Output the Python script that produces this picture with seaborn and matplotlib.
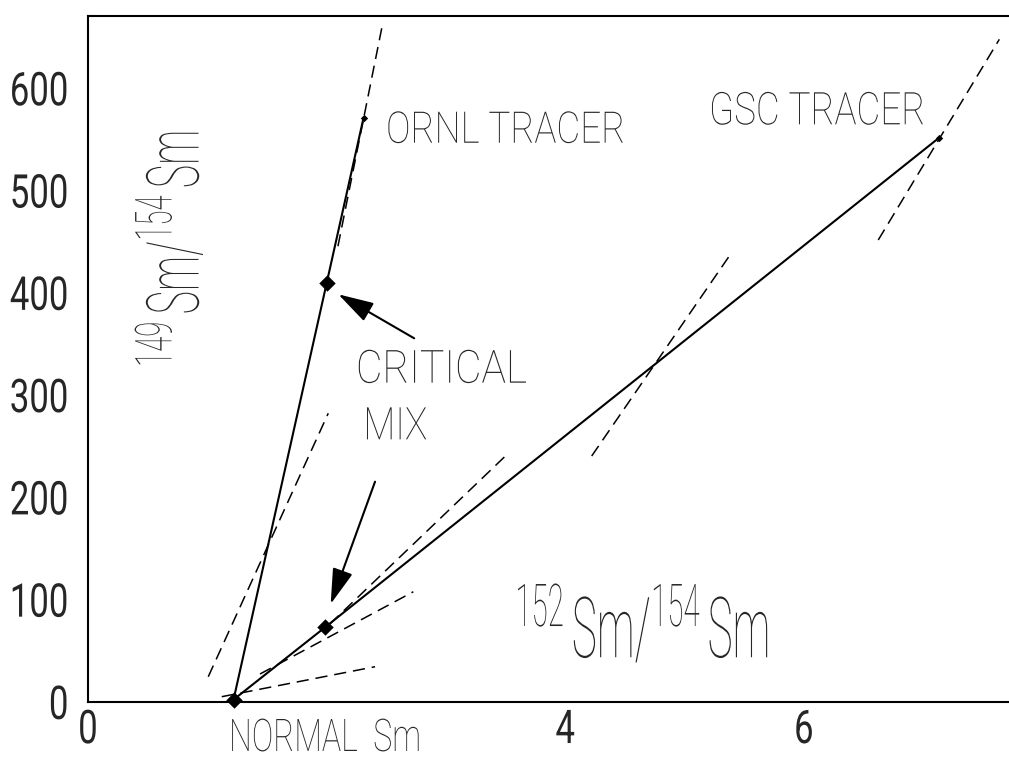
import numpy as np
import pandas as pd
import matplotlib
matplotlib.use("Agg")
import matplotlib.pyplot as plt
import seaborn as sns
from matplotlib.patheffects import AbstractPathEffect
from matplotlib.transforms import Affine2D
from matplotlib.textpath import TextPath

# ---- data: 152Sm/154Sm (x) vs 149Sm/154Sm (y) ----
ornl_x = [1.22, 2.00, 2.31]          # normal -> critical mix -> ORNL tracer
ornl_y = [2, 409, 571]
gsc_x = [1.22, 1.99, 7.13]           # normal -> critical mix -> GSC tracer
gsc_y = [2, 73, 551]

mix_x = [1.22, 2.00, 1.99]           # normal Sm and the two critical mixes
mix_y = [2, 409, 73]
tracer_x = [2.31, 7.13]
tracer_y = [571, 551]

# dashed reference segments (start / end)
dash_x0 = [2.462, 1.008, 1.121, 1.442, 2.028, 4.222, 6.624]
dash_y0 = [658.4, 24.4, 4.9, 27.1, 76.0, 240.2, 451.4]
dash_x1 = [2.090, 2.014, 2.406, 2.727, 3.523, 5.387, 7.639]
dash_y1 = [442.3, 282.0, 34.2, 107.5, 242.9, 437.7, 647.6]

x_ticks = [0, 1, 2, 3, 4, 5, 6, 7]
x_tick_labels = ["0", "", "", "", "4", "", "6", ""]
y_ticks = [0, 100, 200, 300, 400, 500, 600]
y_minor_ticks = [50, 150, 250, 350, 450, 550, 650]


class Tall(AbstractPathEffect):
    """Draw text glyphs stretched vertically (narrow, tall lettering)."""

    def __init__(self, sy, anchor="baseline"):
        super().__init__()
        self.sy = sy
        self.anchor = anchor

    def draw_path(self, renderer, gc, tpath, affine, rgbFace=None):
        ys = tpath.vertices[:, 1]
        if self.anchor == "top" and len(ys):
            a = ys.max()
        elif self.anchor == "middle" and len(ys):
            a = 0.5 * ys.max()
        else:
            a = 0.0
        stretch = Affine2D().translate(0, -a).scale(1.0, self.sy).translate(0, a)
        renderer.draw_path(gc, tpath, stretch + affine, rgbFace)


sns.set_style("white")
plt.rcParams["font.family"] = ["Roboto", "DejaVu Sans"]
plt.rcParams["font.weight"] = "light"
plt.rcParams["mathtext.default"] = "regular"

fig = plt.figure(figsize=(10.09, 7.57), dpi=100)
ax = fig.add_axes([88 / 1009, 55.3 / 757, 921 / 1009, 686 / 757])
renderer = fig.canvas.get_renderer()

# dashed segments
for x0, y0, x1, y1 in zip(dash_x0, dash_y0, dash_x1, dash_y1):
    sns.lineplot(x=[x0, x1], y=[y0, y1], ax=ax, color="black", lw=1.1,
                 linestyle=(0, (8, 4.5)), sort=False, estimator=None)

# mixing lines
sns.lineplot(x=ornl_x, y=ornl_y, ax=ax, color="black", lw=1.5, sort=False, estimator=None)
sns.lineplot(x=gsc_x, y=gsc_y, ax=ax, color="black", lw=1.5, sort=False, estimator=None)

# points
sns.scatterplot(x=mix_x, y=mix_y, ax=ax, marker="D", s=70, color="black",
                edgecolor="black", linewidth=0, zorder=5, clip_on=False)
sns.scatterplot(x=tracer_x, y=tracer_y, ax=ax, marker="D", s=14, color="black",
                edgecolor="black", linewidth=0, zorder=5)

# arrows pointing to the critical mixes
arrow_kw = dict(arrowstyle="-|>,head_length=1.1,head_width=0.32", mutation_scale=20,
                lw=1.5, color="black", shrinkA=0, shrinkB=0)
ax.annotate("", xy=(2.098, 398.3), xytext=(2.734, 355.3), arrowprops=arrow_kw)
ax.annotate("", xy=(2.034, 95.5), xytext=(2.406, 215.1), arrowprops=arrow_kw)

# axes limits, spines and ticks
ax.set_xlim(0, 7.72)
ax.set_ylim(0, 670.7)
ax.set_xlabel("")
ax.set_ylabel("")
for side in ("left", "top", "bottom"):
    ax.spines[side].set_visible(True)
    ax.spines[side].set_linewidth(1.5)
    ax.spines[side].set_color("black")
ax.spines["right"].set_visible(False)

ax.set_xticks(x_ticks)
ax.set_xticklabels(x_tick_labels)
ax.set_yticks(y_ticks)
ax.set_yticks(y_minor_ticks, minor=True)
ax.set_yticklabels([str(v) for v in y_ticks])
ax.tick_params(axis="x", which="both", direction="in", length=6, width=1.3,
               pad=5, labelsize=25, top=False)
ax.tick_params(axis="y", which="both", direction="in", length=7.5, width=1.3,
               pad=14, labelsize=25, right=False)
for lbl in ax.get_xticklabels():
    lbl.set_fontweight("normal")
    lbl.set_path_effects([Tall(1.34, "top")])
for lbl in ax.get_yticklabels():
    lbl.set_fontweight("normal")
    lbl.set_path_effects([Tall(1.34, "middle")])


def label(x, y, s, span_px, cap_px, rotation=0):
    """Narrow tall lettering: size set from the text run length, then
    stretched so capitals reach cap_px pixels."""
    t = ax.text(x, y, s, fontsize=20, ha="left", va="baseline", clip_on=False,
                rotation=rotation, rotation_mode="anchor")
    bb = t.get_window_extent(renderer=renderer)
    run = bb.height if rotation else bb.width
    size = 20 * span_px / run
    t.set_fontsize(size)
    cap = TextPath((0, 0), "N", size=size,
                   prop=t.get_fontproperties()).get_extents().height * fig.dpi / 72
    t.set_path_effects([Tall(cap_px / cap, "baseline")])
    return t


label(2.498, 546.5, "ORNL TRACER", 239, 31)
label(5.205, 564.5, "GSC TRACER", 216, 32)
label(2.246, 311.9, "CRITICAL", 171, 32.5)
label(2.308, 256.5, "MIX", 64, 32)
label(1.182, -48.2, "NORMAL  Sm", 192, 32)

# axis titles
label(3.579, 43.0, r"$^{152}\,$Sm/$^{154}\,$Sm", 255, 60)
label(0.930, 327.1, r"$^{149}\,$Sm/$^{154}\,$Sm", 237, 52, rotation=90)

fig.savefig("out.png", dpi=100)
